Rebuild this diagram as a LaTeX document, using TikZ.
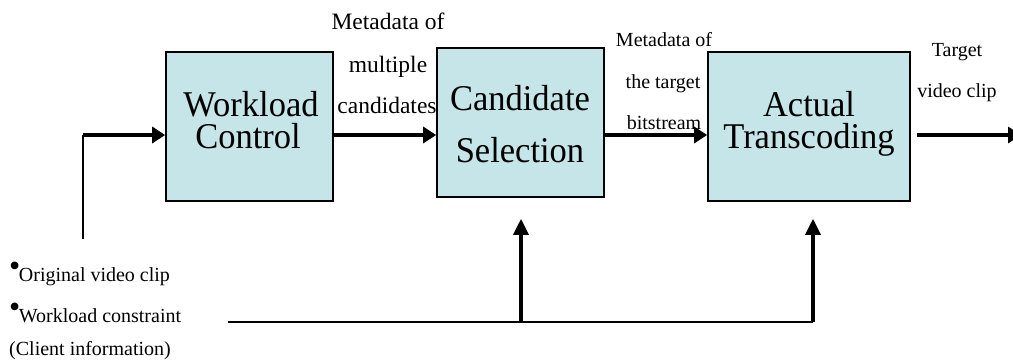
\documentclass[tikz,border=0pt]{standalone}
\usepackage{fontspec}
\setmainfont{Liberation Serif}
\usetikzlibrary{arrows.meta}
\definecolor{boxfill}{RGB}{197,229,232}
\tikzset{
  block/.style={draw=black, line width=1.6pt, fill=boxfill, inner sep=0pt},
  bigtext/.style={anchor=base, inner sep=0pt, font=\fontsize{34.5}{34.5}\selectfont},
  smalltext/.style={anchor=base, inner sep=0pt, font=\fontsize{20}{20}\selectfont},
  midtext/.style={anchor=base, inner sep=0pt, font=\fontsize{23.5}{23.5}\selectfont},
  flow/.style={line width=3.6pt, -{Triangle[length=13pt,width=16pt]}},
  feed/.style={line width=3.2pt, -{Triangle[length=16pt,width=15pt]}},
  plain/.style={line width=2pt},
}
\newcommand{\itemdot}{\raisebox{4.5pt}{\scalebox{1.6}{\textbullet}}\hspace{-1.5pt}}
\begin{document}
\begin{tikzpicture}[x=1pt, y=-1pt]
\useasboundingbox (0,0) rectangle (1013,360);
\clip (0,0) rectangle (1013,360);

% processing stages
\node[block, minimum width=167pt, minimum height=149pt] (wc) at (249.5,126.5) {};
\node[block, minimum width=167pt, minimum height=149pt] (cs) at (520.5,122.5) {};
\node[block, minimum width=202pt, minimum height=149pt] (at) at (809,126.5) {};

\node[bigtext] (wc1) at (251,116) {\scalebox{1}[1.05]{Workload}};
\node[bigtext] (wc2) at (248,148) {\scalebox{1}[1.05]{Control}};
\node[bigtext] (cs1) at (520,110) {\scalebox{1}[1.05]{Candidate}};
\node[bigtext] (cs2) at (520,162) {\scalebox{1}[1.05]{Selection}};
\node[bigtext] (at1) at (809,116) {\scalebox{1}[1.05]{Actual}};
\node[bigtext] (at2) at (809,148) {\scalebox{1}[1.05]{Transcoding}};

% edge labels
\node[midtext] (m1) at (388,29) {Metadata of};
\node[midtext] (m2) at (388,72) {multiple};
\node[midtext] (m3) at (387,113) {candidates};
\node[smalltext] (t1) at (664,46) {Metadata of};
\node[smalltext] (t2) at (663,88) {the target};
\node[smalltext] (t3) at (664,129) {bitstream};
\node[smalltext] (o1) at (957,56) {Target};
\node[smalltext] (o2) at (957,97) {video clip};

% inputs
\node[smalltext, anchor=base west] (i1) at (9,281) {\itemdot Original video clip};
\node[smalltext, anchor=base west] (i2) at (9,322) {\itemdot Workload constraint};
\node[smalltext, anchor=base west] (i3) at (9,355) {(Client information)};

% connectors
\coordinate (lvl) at (0,135);
\coordinate (src) at (83,239);
\coordinate (outend) at (1021,135);
\coordinate (wl) at (228,322);
\coordinate (j1) at (521,322);
\coordinate (j2) at (813,322);

\draw[plain] (src) -- (src |- lvl);
\draw[flow] (src |- lvl) -- (wc.west |- lvl);
\draw[flow] (wc.east |- lvl) -- (cs.west |- lvl);
\draw[flow] (cs.east |- lvl) -- (at.west |- lvl);
\draw[flow] ([xshift=6pt]at.east |- lvl) -- (outend);

\draw[plain] (wl) -- (j2);
\draw[feed] (j1) -- ([yshift=-21pt]cs.south -| j1);
\draw[feed] (j2) -- ([yshift=-17pt]at.south -| j2);
\end{tikzpicture}
\end{document}
